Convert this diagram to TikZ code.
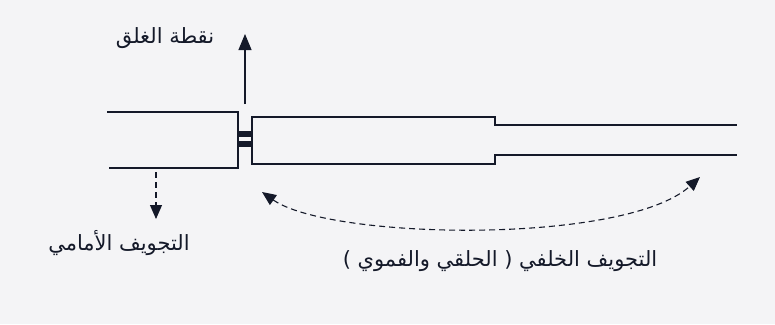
\documentclass[tikz,border=0pt]{standalone}
\usepackage{fontspec}
\TeXXeTstate=1
\newfontfamily\arabicfont[Script=Arabic]{DejaVu Sans}
\usetikzlibrary{arrows.meta}
\definecolor{bg}{rgb}{0.955,0.957,0.965}
\definecolor{ink}{rgb}{0.08,0.10,0.16}
\tikzset{
  tube/.style={draw=ink, line width=1.2pt},
  arrowline/.style={draw=ink, line width=1.1pt},
  dashline/.style={arrowline, dash pattern=on 6pt off 4pt},
  lbl/.style={font=\arabicfont\fontsize{21}{24}\selectfont, text=ink, inner sep=0pt},
  plug/.style={fill=ink, draw=none}
}
\begin{document}
\begin{tikzpicture}[x=1pt,y=-1pt]
  \fill[bg] (0,0) rectangle (775,324);
  \useasboundingbox (0,0) rectangle (775,324);
  % front tube
  \draw[tube] (107,112) -- (238,112) -- (238,168) -- (109,168);
  % back tube with step
  \draw[tube] (252,135) -- (252,117) -- (495,117) -- (495,125) -- (737,125);
  \draw[tube] (252,135) -- (252,164) -- (495,164) -- (495,155) -- (737,155);
  % closure plug
  \fill[plug] (238.5,131) rectangle (253,137);
  \fill[plug] (238.5,140.5) rectangle (253,147);
  % coordinates
  \coordinate (upS) at (245,104);
  \coordinate (upE) at (245,34);
  \coordinate (dnS) at (156,172);
  \coordinate (dnE) at (156,219);
  \coordinate (cvL) at (262,192);
  \coordinate (cvR) at (700,177);
  % arrows
  \draw[arrowline, -{Triangle[length=16pt,width=13pt]}] (upS) -- (upE);
  \draw[dashline, -{Triangle[length=14pt,width=12pt]}] (dnS) -- (dnE);
  \draw[dashline, {Triangle[length=14pt,width=12pt]}-{Triangle[length=14pt,width=12pt]}]
    (cvL) .. controls (330,240) and (625,245) .. (cvR);
  % labels
  \node[lbl] (closure) at (165,38) {\beginR نقطة الغلق\endR};
  \node[lbl] (front) at (119,243) {\beginR التجويف الأمامي\endR};
  \node[lbl] (back) at (500,261) {\beginR التجويف  الخلفي ( الحلقي والفموي )\endR};
\end{tikzpicture}
\end{document}
